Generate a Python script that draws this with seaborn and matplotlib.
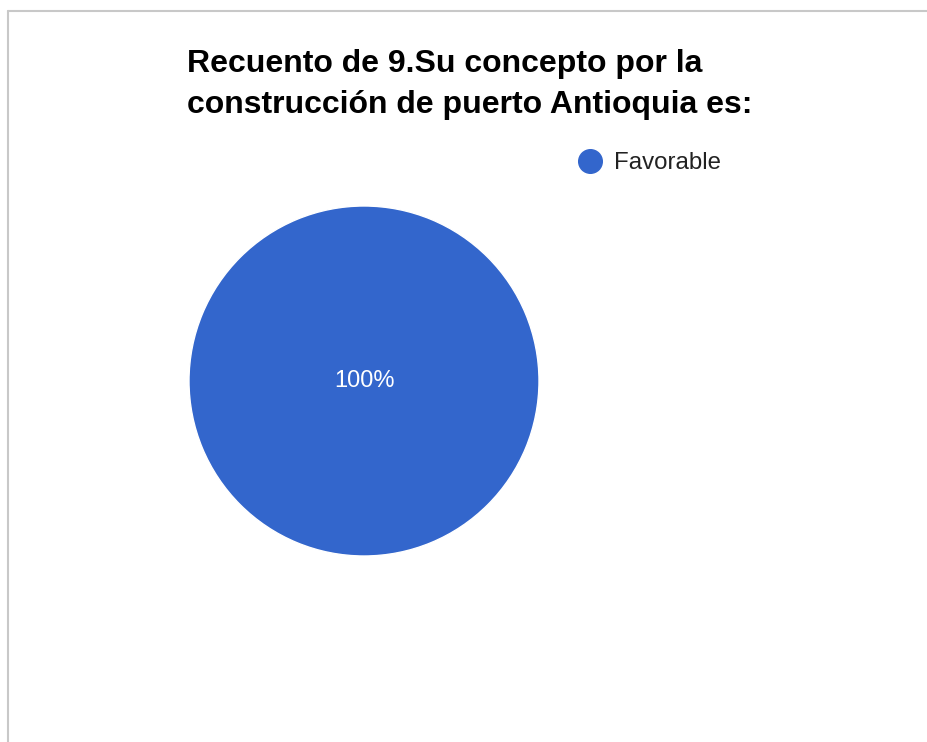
import matplotlib
matplotlib.use("Agg")
import matplotlib.pyplot as plt
from matplotlib.lines import Line2D
import seaborn as sns

categories = ["Favorable"]
values = [100]
colors = ["#3366CC"]
title = "Recuento de 9.Su concepto por la\nconstrucción de puerto Antioquia es:"

sns.set_theme(style="white")
plt.rcParams['font.family'] = ['Liberation Sans', 'DejaVu Sans']

W, H = 927, 742
fig = plt.figure(figsize=(W / 100, H / 100), dpi=100)
fig.patch.set_facecolor("white")

# frame lines (top and left)
fig.add_artist(Line2D([8 / W, 1.0], [1 - 11 / H, 1 - 11 / H], color="#c8c8c8", lw=1.5))
fig.add_artist(Line2D([8 / W, 8 / W], [0, 1 - 11 / H], color="#c8c8c8", lw=1.5))

cx, cy, r = 364, 381, 175
ax = fig.add_axes([(cx - r) / W, 1 - (cy + r) / H, 2 * r / W, 2 * r / H])
wedges, texts, autotexts = ax.pie(values, colors=colors, startangle=90, counterclock=False,
                                  autopct=lambda p: f"{p:.0f}%", pctdistance=0.0,
                                  textprops=dict(color="white", fontsize=17))
for t in autotexts:
    t.set_va("center")
ax.set_aspect("equal")
ax.set_xlim(-1, 1)
ax.set_ylim(-1, 1)
ax.axis("off")

fig.text(187 / W, 1 - 49 / H, title, ha="left", va="top", fontsize=23,
         fontweight="bold", color="black", linespacing=1.47)

handles = [Line2D([0], [0], marker="o", color="none", markerfacecolor=c, markeredgecolor=c,
                  markersize=17) for c in colors]
fig.legend(handles, categories, loc="center left", bbox_to_anchor=(577 / W, 1 - 163 / H),
           frameon=False, fontsize=17.3, handletextpad=0.45, handlelength=1.1,
           labelcolor="#222222", borderaxespad=0, borderpad=0)

fig.savefig("out.png", dpi=100, facecolor="white")
